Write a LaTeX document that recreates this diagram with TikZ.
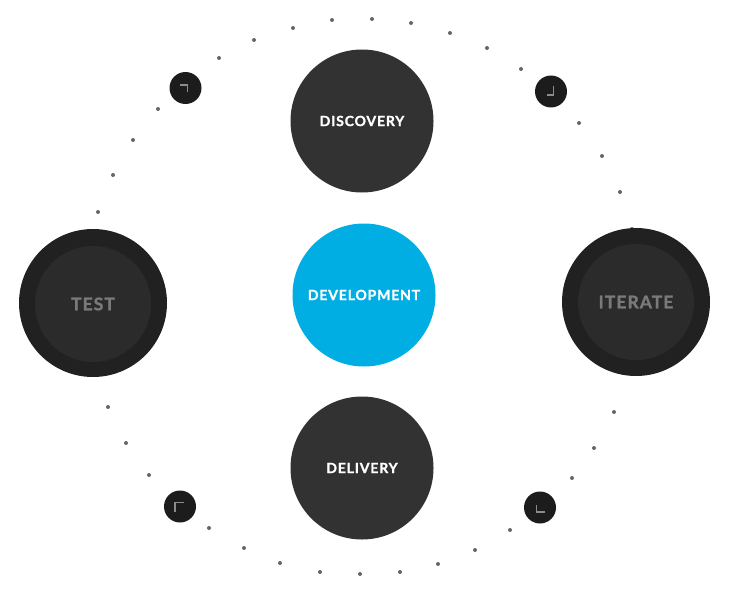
\documentclass[tikz,border=0pt]{standalone}
\usepackage{fontspec}
\newfontfamily\lab[LetterSpace=6,BoldFont={Lato Bold},BoldFeatures={FakeBold=1.3}]{Lato}
\definecolor{darkc}{HTML}{323232}
\definecolor{bluec}{HTML}{00AEE4}
\definecolor{ringout}{HTML}{212121}
\definecolor{ringin}{HTML}{2B2B2B}
\definecolor{ringtxt}{HTML}{7A7A7A}
\definecolor{smallc}{HTML}{1C1C1C}
\definecolor{dotc}{HTML}{666666}
\definecolor{markc}{HTML}{8C8C8C}
\begin{document}
\begin{tikzpicture}[x=1pt,y=-1pt,
  bigc/.style={circle,fill=darkc,minimum size=143pt,inner sep=0pt,text=white,font=\lab\bfseries\fontsize{14}{14}\selectfont},
  bluecirc/.style={bigc,fill=bluec},
  ringo/.style={circle,fill=ringout,minimum size=148pt,inner sep=0pt},
  ringi/.style={circle,fill=ringin,minimum size=116pt,inner sep=0pt,text=ringtxt,font=\lab\bfseries\fontsize{17.5}{17.5}\selectfont},
  dotn/.style={circle,fill=dotc,minimum size=4pt,inner sep=0pt},
  smallcirc/.style={circle,fill=smallc,minimum size=32pt,inner sep=0pt},
  markline/.style={draw=markc,line width=1.4pt}]
\useasboundingbox (0,0) rectangle (730,607);
% dots
\foreach \x/\y [count=\i] in {219/58,254/40,293/28,332/20,372/19,411/23,450/33,487/48,521/69,
  579/123,602/156,620/192,632/229,
  158/109,133/140,113/175,98/212,
  108/407,126/443,149/475,209/528,244/548,280/563,320/572,360/574,
  400/572,438/564,475/550,510/530,572/478,594/448,614/412}
  \node[dotn] (d\i) at (\x,\y) {};
% main circles
\node[bigc] (disc) at (362,121) {DISCOVERY};
\node[bluecirc] (dev) at (364,295) {DEVELOPMENT};
\node[bigc] (deli) at (362,468) {DELIVERY};
\node[ringo] (testo) at (93,303) {};
\node[ringi] (test) at (93,304) {TEST};
\node[ringo] (itero) at (636,302) {};
\node[ringi] (iter) at (636,302) {ITERATE};
% small corner circles
\node[smallcirc] (c1) at (185.5,88) {};
\node[smallcirc] (c2) at (551,91.5) {};
\node[smallcirc] (c3) at (180,506.5) {};
\node[smallcirc] (c4) at (540,507.5) {};
\draw[markline,shift={(c1.center)}] (-5.5,-3) -- (2,-3) -- (2,4.5);
\draw[markline,shift={(c2.center)}] (2.5,-5.3) -- (2.5,3.7) -- (-4,3.7);
\draw[markline,shift={(c3.center)}] (4,-4) -- (-5,-4) -- (-5,5);
\draw[markline,shift={(c4.center)}] (-3.5,-3) -- (-3.5,4.5) -- (5,4.5);
\end{tikzpicture}
\end{document}
